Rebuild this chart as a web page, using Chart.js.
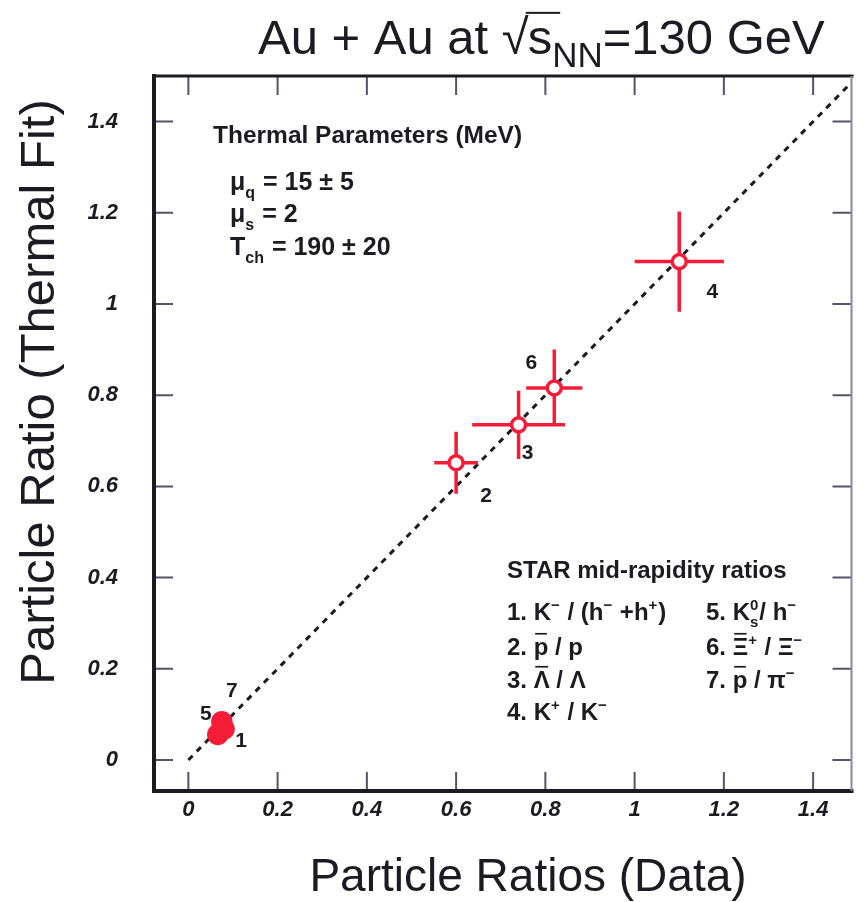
<!DOCTYPE html>
<html>
<head>
<meta charset="utf-8">
<script src="https://cdn.jsdelivr.net/npm/chart.js@4.4.1/dist/chart.umd.min.js"></script>
<style>
  html, body { margin: 0; padding: 0; background: #fff; }
  #wrap { width: 864px; height: 902px; position: relative; }
</style>
</head>
<body>
<div id="wrap"><canvas id="ratios"></canvas></div>
<script>
// STAR mid-rapidity ratios: measured value vs thermal-fit value
const ratioIds   = ['1', '2', '3', '4', '5', '6', '7'];
const dataRatio  = [0.080, 0.60, 0.74, 1.10, 0.066, 0.82, 0.075];
const fitRatio   = [0.068, 0.652, 0.735, 1.093, 0.056, 0.816, 0.084];
const dataErr    = [0.015, 0.049, 0.104, 0.100, 0.015, 0.063, 0.015];
const fitErr     = [0.015, 0.068, 0.075, 0.110, 0.015, 0.084, 0.015];
const tickValues = [0, 0.2, 0.4, 0.6, 0.8, 1, 1.2, 1.4];

// where each number tag sits relative to its point (px)
const tagOffsets = [[17, 12], [30, 34], [9, 28], [33, 31], [-12, -20], [-23, -25], [10, -30]];
// the three low ratios overlap into one solid spot
const solidMarker = [true, false, false, false, true, false, true];

const RED = '#f41c36';
const INK = '#1c1a22';
const FONT = '"Liberation Sans", Arial, Helvetica, sans-serif';

// draw a run of text pieces: [text, kind]; kind = sup | sub | bar | stack
function rich(ctx, parts, x, y, size, weight) {
  weight = weight || 'bold';
  ctx.textAlign = 'left';
  ctx.textBaseline = 'alphabetic';
  for (const [txt, kind] of parts) {
    if (kind === 'sup' || kind === 'sub') {
      ctx.font = `${weight} ${Math.round(size * 0.62)}px ${FONT}`;
      ctx.fillText(txt, x, kind === 'sup' ? y - size * 0.42 : y + size * 0.3);
      x += ctx.measureText(txt).width + 1;
    } else if (kind === 'stack') {
      ctx.font = `${weight} ${Math.round(size * 0.62)}px ${FONT}`;
      ctx.fillText(txt[0], x, y - size * 0.42);
      ctx.fillText(txt[1], x, y + size * 0.3);
      x += Math.max(ctx.measureText(txt[0]).width, ctx.measureText(txt[1]).width) + 1;
    } else {
      ctx.font = `${weight} ${size}px ${FONT}`;
      const w = ctx.measureText(txt).width;
      ctx.fillText(txt, x, y);
      if (kind === 'bar') {
        ctx.fillRect(x + w * 0.1, y - size * 0.92, w * 0.8, Math.max(1.5, size * 0.07));
      }
      x += w;
    }
  }
  return x;
}

const errorBars = {
  id: 'errorBars',
  beforeDatasetDraw(chart, args) {
    if (args.index !== 1) return;
    const { ctx, scales: { x, y } } = chart;
    ctx.save();
    ctx.strokeStyle = RED;
    ctx.lineWidth = 3.5;
    ctx.beginPath();
    dataRatio.forEach((v, i) => {
      const px = x.getPixelForValue(v), py = y.getPixelForValue(fitRatio[i]);
      ctx.moveTo(x.getPixelForValue(v - dataErr[i]), py);
      ctx.lineTo(x.getPixelForValue(v + dataErr[i]), py);
      ctx.moveTo(px, y.getPixelForValue(fitRatio[i] - fitErr[i]));
      ctx.lineTo(px, y.getPixelForValue(fitRatio[i] + fitErr[i]));
    });
    ctx.stroke();
    ctx.restore();
  }
};

const frame = {
  id: 'frame',
  beforeDatasetsDraw(chart) {
    const { ctx, chartArea: a, scales: { x, y } } = chart;
    const len = 19;
    ctx.save();
    ctx.strokeStyle = '#55526a';
    ctx.lineWidth = 2;
    ctx.beginPath();
    tickValues.forEach(v => {
      const px = x.getPixelForValue(v), py = y.getPixelForValue(v);
      ctx.moveTo(px, a.bottom); ctx.lineTo(px, a.bottom - len);
      ctx.moveTo(px, a.top); ctx.lineTo(px, a.top + len);
      ctx.moveTo(a.left, py); ctx.lineTo(a.left + len, py);
      ctx.moveTo(a.right, py); ctx.lineTo(a.right - len, py);
    });
    ctx.stroke();
    ctx.restore();
  },
  afterDatasetsDraw(chart) {
    const { ctx, chartArea: a } = chart;
    ctx.save();
    ctx.fillStyle = INK;
    ctx.fillRect(a.left - 2, a.top - 2, 4, a.bottom - a.top + 4);     // left
    ctx.fillRect(a.left - 2, a.bottom - 2, a.right - a.left + 4, 4); // bottom
    ctx.fillRect(a.left - 2, a.top - 1.5, a.right - a.left + 4, 3);  // top
    ctx.fillStyle = '#8a88a0';
    ctx.fillRect(a.right - 1, a.top, 2, a.bottom - a.top);           // right
    ctx.restore();
  }
};

const texts = {
  id: 'texts',
  afterDraw(chart) {
    const { ctx, scales: { x, y } } = chart;
    ctx.save();
    ctx.fillStyle = INK;

    // title: Au + Au at sqrt(s_NN)=130 GeV
    const ts = 49;
    ctx.font = `${ts}px ${FONT}`;
    let tx = 258, ty = 54;
    ctx.textAlign = 'left';
    ctx.textBaseline = 'alphabetic';
    ctx.fillText('Au + Au at ', tx, ty); tx += ctx.measureText('Au + Au at ').width;
    ctx.fillText('\u221A', tx, ty); tx += ctx.measureText('\u221A').width - 1;
    const sw = ctx.measureText('s').width;
    ctx.fillText('s', tx, ty);
    ctx.fillRect(tx - 2, ty - ts * 0.86, sw + 10, 2);
    tx += sw;
    ctx.font = `${Math.round(ts * 0.72)}px ${FONT}`;
    ctx.fillText('NN', tx, ty + ts * 0.26); tx += ctx.measureText('NN').width;
    ctx.font = `${ts}px ${FONT}`;
    ctx.fillText('=130 GeV', tx, ty);

    // axis titles
    ctx.textAlign = 'center';
    ctx.textBaseline = 'middle';
    ctx.font = `46px ${FONT}`;
    ctx.fillText('Particle Ratios (Data)', 528, 878);
    ctx.save();
    ctx.translate(40, 392);
    ctx.rotate(-Math.PI / 2);
    ctx.font = `49px ${FONT}`;
    ctx.fillText('Particle Ratio (Thermal Fit)', 0, 0);
    ctx.restore();

    // thermal parameters block
    const fs = 24;
    rich(ctx, [['Thermal Parameters (MeV)']], 213, 143, 24.5);
    rich(ctx, [['\u03BC'], ['q', 'sub'], [' = 15 \u00B1 5']], 230, 190, 25);
    rich(ctx, [['\u03BC'], ['s', 'sub'], [' = 2']], 230, 222, 25);
    rich(ctx, [['T'], ['ch', 'sub'], [' = 190 \u00B1 20']], 230, 255, 25);

    // ratio key
    rich(ctx, [['STAR mid-rapidity ratios']], 507, 578, 24);
    const c1 = 507, c2 = 706, rows = [620, 655, 688, 720];
    rich(ctx, [['1. K'], ['\u2212', 'sup'], [' / (h'], ['\u2212', 'sup'], [' +h'], ['+', 'sup'], [')']], c1, rows[0], fs);
    rich(ctx, [['2. '], ['p', 'bar'], [' / p']], c1, rows[1], fs);
    rich(ctx, [['3. '], ['\u039B', 'bar'], [' / \u039B']], c1, rows[2], fs);
    rich(ctx, [['4. K'], ['+', 'sup'], [' / K'], ['\u2212', 'sup']], c1, rows[3], fs);
    rich(ctx, [['5. K'], [['0', 's'], 'stack'], ['/ h'], ['\u2212', 'sup']], c2, rows[0], fs);
    rich(ctx, [['6. '], ['\u039E', 'bar'], ['+', 'sup'], [' / \u039E'], ['\u2212', 'sup']], c2, rows[1], fs);
    rich(ctx, [['7. '], ['p', 'bar'], [' / \u03C0'], ['\u2212', 'sup']], c2, rows[2], fs);

    // number tags next to the points
    ctx.font = `bold 21px ${FONT}`;
    ctx.textAlign = 'center';
    ctx.textBaseline = 'middle';
    ratioIds.forEach((id, i) => {
      const px = x.getPixelForValue(dataRatio[i]) + tagOffsets[i][0];
      const py = y.getPixelForValue(fitRatio[i]) + tagOffsets[i][1];
      ctx.fillText(id, px, py);
    });
    ctx.restore();
  }
};

const tickFont = { family: FONT, size: 22, style: 'italic', weight: 'bold' };

new Chart(document.getElementById('ratios'), {
  data: {
    datasets: [
      {
        type: 'line',
        data: [{ x: 0, y: 0 }, { x: 1.6, y: 1.6 }],
        borderColor: INK,
        borderWidth: 3,
        borderDash: [6, 6],
        pointRadius: 0,
        order: 2
      },
      {
        type: 'scatter',
        data: dataRatio.map((v, i) => ({ x: v, y: fitRatio[i] })),
        pointRadius: solidMarker.map(s => (s ? 9 : 7)),
        pointBorderWidth: 3.5,
        pointBorderColor: RED,
        pointBackgroundColor: solidMarker.map(s => (s ? RED : '#fff')),
        order: 1
      }
    ]
  },
  options: {
    responsive: true,
    maintainAspectRatio: false,
    devicePixelRatio: 1,
    animation: false,
    layout: { padding: { top: 76, right: 2, left: 0, bottom: 0 } },
    plugins: { legend: { display: false }, tooltip: { enabled: false } },
    scales: {
      x: {
        type: 'linear',
        min: -0.077, max: 1.486,
        grid: { display: false, drawTicks: false },
        border: { display: false },
        afterFit(s) { s.height = 111; },
        afterBuildTicks(s) { s.ticks = tickValues.map(v => ({ value: v })); },
        ticks: {
          padding: 6, color: INK, font: tickFont, maxRotation: 0,
          callback: v => String(+v.toFixed(1))
        }
      },
      y: {
        type: 'linear',
        min: -0.068, max: 1.50,
        grid: { display: false, drawTicks: false },
        border: { display: false },
        afterFit(s) { s.width = 154; },
        afterBuildTicks(s) { s.ticks = tickValues.map(v => ({ value: v })); },
        ticks: {
          padding: 36, color: INK, font: tickFont,
          callback: v => String(+v.toFixed(1))
        }
      }
    }
  },
  plugins: [errorBars, frame, texts]
});
</script>
</body>
</html>
